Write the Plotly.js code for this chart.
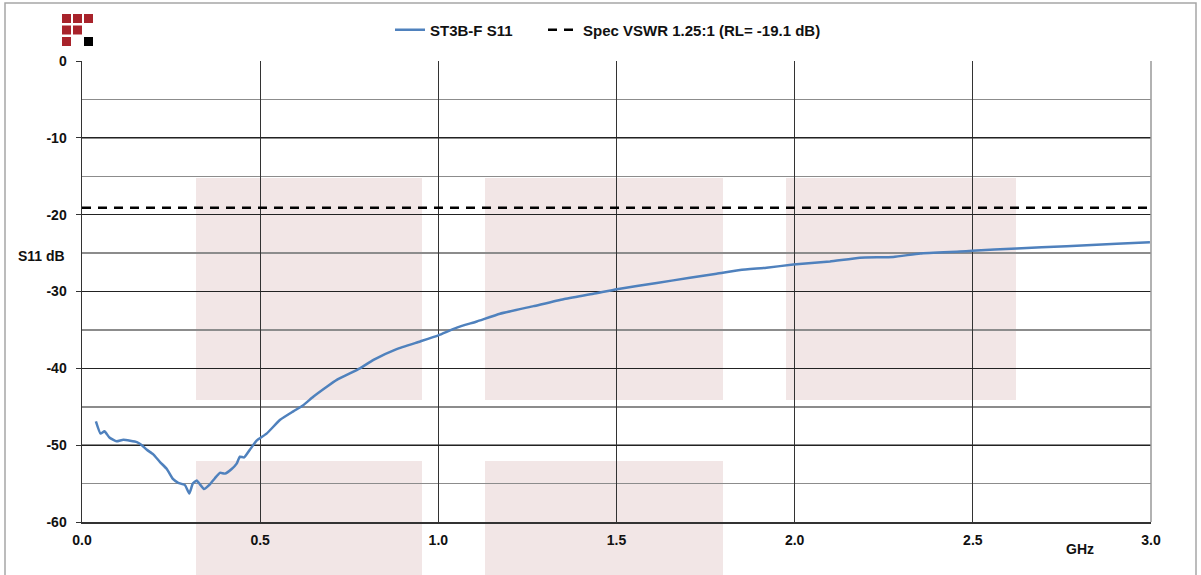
<!DOCTYPE html>
<html>
<head>
<meta charset="utf-8">
<script src="https://cdn.plot.ly/plotly-3.0.1.min.js"></script>
<style>html,body{margin:0;padding:0;background:#fff;}#chart{width:1201px;height:575px;}</style>
</head>
<body>
<div id="chart"></div>
<script>
// ---- data ----
const freqGHz = [0.039,0.052,0.063,0.077,0.097,0.116,0.154,0.168,0.182,0.200,0.219,0.238,0.255,0.270,0.289,0.301,0.311,0.322,0.331,0.342,0.359,0.373,0.387,0.401,0.420,0.434,0.443,0.455,0.471,0.490,0.518,0.556,0.593,0.621,0.649,0.687,0.715,0.780,0.818,0.883,0.949,1.000,1.052,1.108,1.173,1.267,1.351,1.435,1.501,1.613,1.706,1.781,1.847,1.921,1.996,2.099,2.183,2.277,2.352,2.464,2.498,2.623,2.763,2.904,2.997];
const s11dB = [-46.9,-48.5,-48.2,-49.0,-49.5,-49.3,-49.6,-50.0,-50.6,-51.2,-52.2,-53.1,-54.4,-54.9,-55.2,-56.3,-55.0,-54.6,-55.1,-55.7,-55.1,-54.3,-53.6,-53.7,-53.1,-52.4,-51.5,-51.6,-50.6,-49.4,-48.5,-46.7,-45.6,-44.8,-43.7,-42.4,-41.5,-40.0,-38.9,-37.5,-36.5,-35.7,-34.7,-33.9,-32.9,-31.9,-31.0,-30.3,-29.7,-28.9,-28.2,-27.7,-27.2,-26.9,-26.5,-26.1,-25.6,-25.5,-25.05,-24.8,-24.7,-24.4,-24.1,-23.8,-23.6];
const specX = [0, 3.0];
const specDB = [-19.1, -19.1];
const seriesNames = ["ST3B-F S11", "Spec VSWR 1.25:1 (RL= -19.1 dB)"];
const xTickVals = [0, 0.5, 1.0, 1.5, 2.0, 2.5, 3.0];
const xTickText = ["0.0", "0.5", "1.0", "1.5", "2.0", "2.5", "3.0"];
const yTickVals = [0, -10, -20, -30, -40, -50, -60];
const yTickText = ["0", "-10", "-20", "-30", "-40", "-50", "-60"];

// ---- layout helpers (pixel -> paper) ----
const W = 1201, H = 575;
const M = {l: 82, r: 50, t: 61, b: 53};
const PW = W - M.l - M.r, PH = H - M.t - M.b;
const px = x => (x - M.l) / PW;
const py = y => (H - M.b - y) / PH;

const FONT = {family: "Liberation Sans, Arial, sans-serif", size: 14, color: "#111", weight: "bold"};
const LEGEND_FONT = Object.assign({}, FONT, {size: 15});

const shapes = [];
// faint watermark blocks
const pink = "#f2e6e6";
const blocks = [[196,422,178,400],[485,723,178,400],[786,1016,178,400],[196,422,461,590],[485,723,461,590]];
blocks.forEach(b => shapes.push({type:"rect", xref:"paper", yref:"paper", x0:px(b[0]), x1:px(b[1]), y0:py(b[3]), y1:py(b[2]), fillcolor:pink, line:{width:0}, layer:"below"}));
// logo squares
const logoRed = "#a8232b";
const cols = [[62,71],[73,82],[84,93]];
const rows = [[14,23],[25.5,34.5],[37,46]];
const logoCells = [[0,0,logoRed],[0,1,logoRed],[0,2,logoRed],[1,0,logoRed],[1,1,logoRed],[2,0,logoRed],[2,2,"#000"]];
logoCells.forEach(c => shapes.push({type:"rect", xref:"paper", yref:"paper", x0:px(cols[c[1]][0]), x1:px(cols[c[1]][1]), y0:py(rows[c[0]][1]), y1:py(rows[c[0]][0]), fillcolor:c[2], line:{width:0}}));
// right edge of plot
shapes.push({type:"line", xref:"paper", yref:"paper", x0:1, x1:1, y0:0, y1:1, line:{color:"#999", width:1.5}});
// outer frame
shapes.push({type:"rect", xref:"paper", yref:"paper", x0:px(5), x1:px(1196), y0:py(590), y1:py(3), line:{color:"#a6a6a6", width:1.5}, fillcolor:"rgba(0,0,0,0)"});

const traces = [
  {x: freqGHz, y: s11dB, name: seriesNames[0], type: "scatter", mode: "lines", legend: "legend",
   line: {color: "#4f81bd", width: 2.5, shape: "spline", smoothing: 0.4}},
  {x: specX, y: specDB, name: seriesNames[1], type: "scatter", mode: "lines", legend: "legend2",
   line: {color: "#000", width: 2.5, dash: "9px,7px"}}
];

const legendBase = {orientation: "h", xanchor: "left", y: py(30), yanchor: "middle", font: LEGEND_FONT,
                    bgcolor: "rgba(0,0,0,0)", itemwidth: 30};

const layout = {
  width: W, height: H,
  margin: M,
  paper_bgcolor: "#fff",
  plot_bgcolor: "rgba(0,0,0,0)",
  font: FONT,
  showlegend: true,
  legend: Object.assign({}, legendBase, {x: px(390)}),
  legend2: Object.assign({}, legendBase, {x: px(543)}),
  xaxis: {range: [0, 3.0], tickvals: xTickVals, ticktext: xTickText, showgrid: true, gridcolor: "#333", gridwidth: 1,
          showline: true, linecolor: "#333", linewidth: 1.5, ticks: "", ticklabelstandoff: 5, zeroline: false, tickfont: FONT, fixedrange: true},
  yaxis: {range: [-60, 0], tickvals: yTickVals, ticktext: yTickText, showgrid: true, gridcolor: "#222", gridwidth: 1,
          minor: {dtick: 5, tick0: 0, showgrid: true, gridcolor: "#8c8c8c", gridwidth: 1.5, ticks: ""},
          showline: true, linecolor: "#333", linewidth: 1.5, ticks: "outside", ticklen: 5, tickcolor: "#333",
          ticklabelstandoff: 6, zeroline: false, tickfont: FONT, fixedrange: true},
  shapes: shapes,
  annotations: [
    {text: "S11 dB", xref: "paper", yref: "paper", x: px(41), y: py(256), showarrow: false, font: FONT, xanchor: "center", yanchor: "middle"},
    {text: "GHz", xref: "paper", yref: "paper", x: px(1080), y: py(549), showarrow: false, font: FONT, xanchor: "center", yanchor: "middle"}
  ]
};

Plotly.newPlot("chart", traces, layout, {displayModeBar: false, staticPlot: true});
</script>
</body>
</html>
